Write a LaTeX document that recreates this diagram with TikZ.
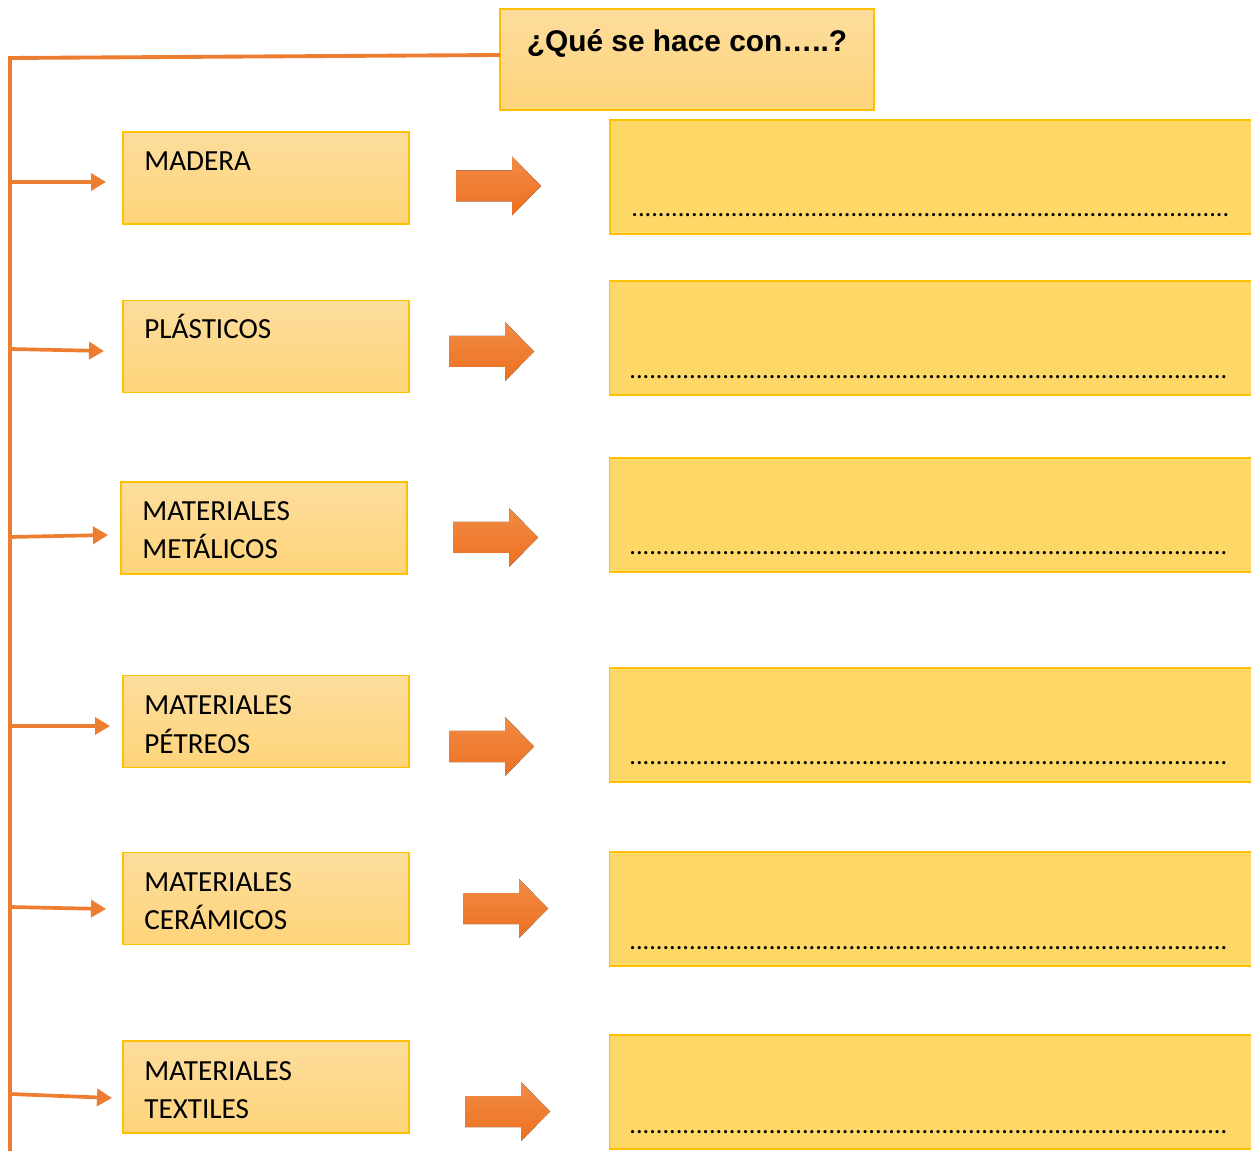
\documentclass[tikz,border=0pt]{standalone}
\usepackage{fontspec}
\setmainfont{Carlito}
\newfontfamily\titlefont{Liberation Sans}
\usetikzlibrary{arrows.meta}
\definecolor{lineor}{RGB}{237,125,49}
\definecolor{boxgold}{RGB}{255,192,0}
\definecolor{lbtop}{RGB}{253,221,157}
\definecolor{lbbot}{RGB}{254,212,122}
\definecolor{rfill}{RGB}{253,216,102}
\definecolor{arrtop}{RGB}{241,139,70}
\definecolor{arrbot}{RGB}{236,112,32}
\begin{document}
\begin{tikzpicture}[x=0.02cm,y=-0.02cm,
  titlebox/.style={draw=boxgold,line width=0.9pt,top color=lbtop,bottom color=lbbot,minimum width=7.48cm,minimum height=2.02cm,inner sep=0pt},
  leftbox/.style={draw=boxgold,line width=0.9pt,top color=lbtop,bottom color=lbbot,minimum width=5.72cm,minimum height=1.84cm,inner sep=0pt},
  rightbox/.style={draw=boxgold,line width=0.9pt,fill=rfill,minimum width=13cm,minimum height=2.28cm,inner sep=0pt},
  lbl/.style={anchor=base west,inner sep=0pt,font=\fontsize{16.6}{20}\selectfont},
  dotsline/.style={anchor=base west,inner sep=0pt,font=\fontsize{15}{17}\selectfont},
  trunk/.style={draw=lineor,line width=2.2pt},
  branch/.style={draw=lineor,line width=2.1pt,-{Triangle[length=0.3cm,width=0.34cm]}},
  bigarrow/.pic={\fill[top color=arrtop,bottom color=arrbot] (0,-15.5) -- (56,-15.5) -- (56,-29.5) -- (85,0) -- (56,29.5) -- (56,15.5) -- (0,15.5) -- cycle;}
]
\clip (0,0) rectangle (1251,1151);
\fill[white] (0,0) rectangle (1251,1151);

% title
\node[titlebox] (title) at (687,59.5) {};
\node[anchor=base,inner sep=0pt,font=\titlefont\bfseries\fontsize{17}{20}\selectfont] (titletext) at (687,52) {¿Qué se hace con…..?};

% trunk
\coordinate (tj) at (500,55);
\coordinate (corner) at (10,58);
\coordinate (bottom) at (10,1155);
\draw[trunk] (tj) -- (corner) -- (bottom);

% left boxes
\node[leftbox] (madera) at (266,178) {};
\node[leftbox] (plasticos) at (266,346.5) {};
\node[leftbox] (metalicos) at (264,528) {};
\node[leftbox] (petreos) at (266,721.5) {};
\node[leftbox] (ceramicos) at (266,898.5) {};
\node[leftbox] (textiles) at (266,1087) {};

\node[lbl] (t1) at (144,171) {MADERA};
\node[lbl] (t2) at (144,339) {PLÁSTICOS};
\node[lbl] (t3a) at (142,521) {MATERIALES};
\node[lbl] (t3b) at (142,559) {METÁLICOS};
\node[lbl] (t4a) at (144,715) {MATERIALES};
\node[lbl] (t4b) at (144,753) {PÉTREOS};
\node[lbl] (t5a) at (144,891) {MATERIALES};
\node[lbl] (t5b) at (144,929) {CERÁMICOS};
\node[lbl] (t6a) at (144,1080) {MATERIALES};
\node[lbl] (t6b) at (144,1118) {TEXTILES};

% branches
\coordinate (s1) at (10,182);  \coordinate (e1) at (106,182);
\coordinate (s2) at (10,349);  \coordinate (e2) at (104,351);
\coordinate (s3) at (10,537);  \coordinate (e3) at (108,535);
\coordinate (s4) at (10,726);  \coordinate (e4) at (110,726);
\coordinate (s5) at (10,907);  \coordinate (e5) at (106,909);
\coordinate (s6) at (10,1094); \coordinate (e6) at (112,1098);
\foreach \i in {1,...,6} {\draw[branch] (s\i) -- (e\i);}

% block arrows
\pic at (456,186) {bigarrow};
\pic at (449,351.5) {bigarrow};
\pic at (453,537.5) {bigarrow};
\pic at (449,746.5) {bigarrow};
\pic at (463,908.5) {bigarrow};
\pic at (465,1111.5) {bigarrow};

% right boxes
\node[rightbox] (r1) at (935,177) {};
\node[rightbox] (r2) at (934.5,338) {};
\node[rightbox] (r3) at (934.5,515) {};
\node[rightbox] (r4) at (934.5,725) {};
\node[rightbox] (r5) at (934.5,909) {};
\node[rightbox] (r6) at (934.5,1092) {};

\node[dotsline] (d1) at (631,217) {\makebox[11.98cm][l]{\xleaders\hbox{.}\hfill}};
\node[dotsline] (d2) at (629,379) {\makebox[11.98cm][l]{\xleaders\hbox{.}\hfill}};
\node[dotsline] (d3) at (629,555) {\makebox[11.98cm][l]{\xleaders\hbox{.}\hfill}};
\node[dotsline] (d4) at (629,765) {\makebox[11.98cm][l]{\xleaders\hbox{.}\hfill}};
\node[dotsline] (d5) at (629,949) {\makebox[11.98cm][l]{\xleaders\hbox{.}\hfill}};
\node[dotsline] (d6) at (629,1133) {\makebox[11.98cm][l]{\xleaders\hbox{.}\hfill}};
\end{tikzpicture}
\end{document}
